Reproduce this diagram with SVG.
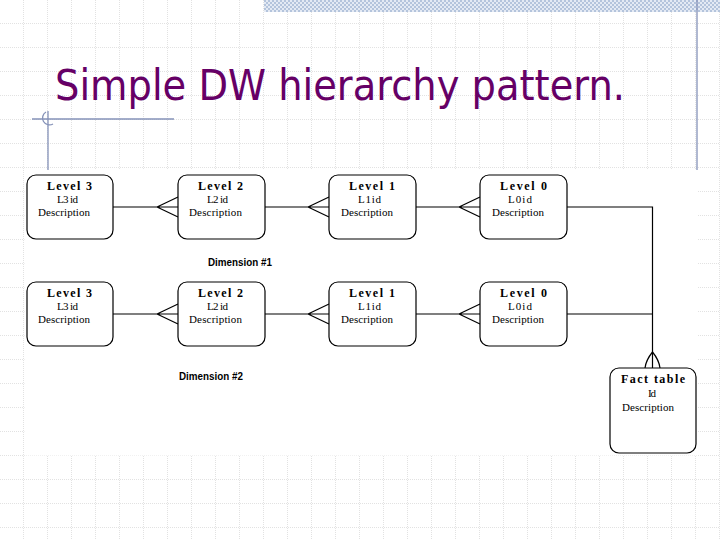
<svg xmlns="http://www.w3.org/2000/svg" width="720" height="540" viewBox="0 0 720 540">
<defs>
<pattern id="grid" x="0" y="0" width="24" height="24" patternUnits="userSpaceOnUse">
<path d="M24 0V24M0 24H24" fill="none" stroke="#c4c4c4" stroke-width="1" stroke-dasharray="1 1"/>
</pattern>
<pattern id="hatch" x="0" y="0" width="4" height="4" patternUnits="userSpaceOnUse">
<rect width="4" height="4" fill="#e4eaf4"/>
<rect width="2" height="2" fill="#b4c4dc"/>
<rect x="2" y="2" width="2" height="2" fill="#b4c4dc"/>
</pattern>
<style>
.box{fill:#fff;stroke:#000;stroke-width:1.2}
.ln{fill:none;stroke:#000;stroke-width:1.2}
.lv{font-family:"Liberation Serif",serif;font-weight:bold;font-size:12px;fill:#000}
.tx{font-family:"Liberation Serif",serif;font-size:11px;fill:#000}
.dim{font-family:"Liberation Sans",sans-serif;font-weight:bold;font-size:11px;fill:#000}
.deco{stroke:#8592b8;stroke-width:1.3;fill:none}
</style>
</defs>
<rect width="720" height="540" fill="#fff"/>
<rect x="-0.5" y="-0.5" width="721" height="541" fill="url(#grid)"/>
<rect x="264" y="0" width="456" height="12" fill="url(#hatch)"/>
<line class="deco" x1="697" y1="0" x2="697" y2="170"/>
<line class="deco" x1="32" y1="119" x2="174" y2="119"/>
<line class="deco" x1="48" y1="111" x2="48" y2="170"/>
<path class="deco" d="M46 112 A6.5 6.5 0 1 0 53 124"/>
<text x="55" y="100" font-family="DejaVu Sans,Verdana,sans-serif" font-size="42" fill="#660066" textLength="570" lengthAdjust="spacingAndGlyphs">Simple DW hierarchy pattern.</text>

<rect x="24.5" y="170" width="672.5" height="285.5" fill="#fff"/>

<g id="connectors">
<path class="ln" d="M113 207H178M157 207L178 197M157 207L178 217"/>
<path class="ln" d="M265 207H329M308 207L329 197M308 207L329 217"/>
<path class="ln" d="M416 207H480M459 207L480 197M459 207L480 217"/>
<path class="ln" d="M113 314H178M157 314L178 304M157 314L178 324"/>
<path class="ln" d="M265 314H329M308 314L329 304M308 314L329 324"/>
<path class="ln" d="M416 314H480M459 314L480 304M459 314L480 324"/>
<path class="ln" d="M567 207H652.5V368M567 314H652.5"/>
<path class="ln" d="M652.5 352Q646 360 645 368M652.5 352Q659 360 660 368"/>
</g>

<g id="d1-level3"><rect class="box" x="27" y="175" width="86" height="64" rx="9"/>
<text class="lv" x="47" y="190" textLength="45">Level 3</text>
<text class="tx" x="57" y="203" textLength="21">L3 id</text>
<text class="tx" x="38" y="216" textLength="52">Description</text></g>
<g id="d1-level2"><rect class="box" x="178" y="175" width="87" height="64" rx="9"/>
<text class="lv" x="198" y="190" textLength="45">Level 2</text>
<text class="tx" x="207" y="203" textLength="21">L2 id</text>
<text class="tx" x="189" y="216" textLength="53">Description</text></g>
<g id="d1-level1"><rect class="box" x="329" y="175" width="87" height="64" rx="9"/>
<text class="lv" x="349" y="190" textLength="46">Level 1</text>
<text class="tx" x="358" y="203" textLength="23">L1id</text>
<text class="tx" x="341" y="216" textLength="52">Description</text></g>
<g id="d1-level0"><rect class="box" x="480" y="175" width="87" height="64" rx="9"/>
<text class="lv" x="500" y="190" textLength="47">Level 0</text>
<text class="tx" x="508" y="203" textLength="24">L0id</text>
<text class="tx" x="492" y="216" textLength="52">Description</text></g>

<g id="d2-level3"><rect class="box" x="27" y="282" width="86" height="64" rx="9"/>
<text class="lv" x="47" y="297" textLength="45">Level 3</text>
<text class="tx" x="57" y="310" textLength="21">L3 id</text>
<text class="tx" x="38" y="323" textLength="52">Description</text></g>
<g id="d2-level2"><rect class="box" x="178" y="282" width="87" height="64" rx="9"/>
<text class="lv" x="198" y="297" textLength="45">Level 2</text>
<text class="tx" x="207" y="310" textLength="21">L2 id</text>
<text class="tx" x="189" y="323" textLength="53">Description</text></g>
<g id="d2-level1"><rect class="box" x="329" y="282" width="87" height="64" rx="9"/>
<text class="lv" x="349" y="297" textLength="46">Level 1</text>
<text class="tx" x="358" y="310" textLength="23">L1id</text>
<text class="tx" x="341" y="323" textLength="52">Description</text></g>
<g id="d2-level0"><rect class="box" x="480" y="282" width="87" height="64" rx="9"/>
<text class="lv" x="500" y="297" textLength="47">Level 0</text>
<text class="tx" x="508" y="310" textLength="24">L0id</text>
<text class="tx" x="492" y="323" textLength="52">Description</text></g>

<g id="fact-table"><rect class="box" x="610" y="368" width="86" height="85" rx="9"/>
<text class="lv" x="621" y="383" textLength="64">Fact table</text>
<text class="tx" x="648" y="397" textLength="8">Id</text>
<text class="tx" x="622" y="411" textLength="52">Description</text></g>

<g id="labels">
<text class="dim" x="208" y="266" textLength="64" lengthAdjust="spacingAndGlyphs">Dimension #1</text>
<text class="dim" x="179" y="380" textLength="64" lengthAdjust="spacingAndGlyphs">Dimension #2</text>
</g>
</svg>
